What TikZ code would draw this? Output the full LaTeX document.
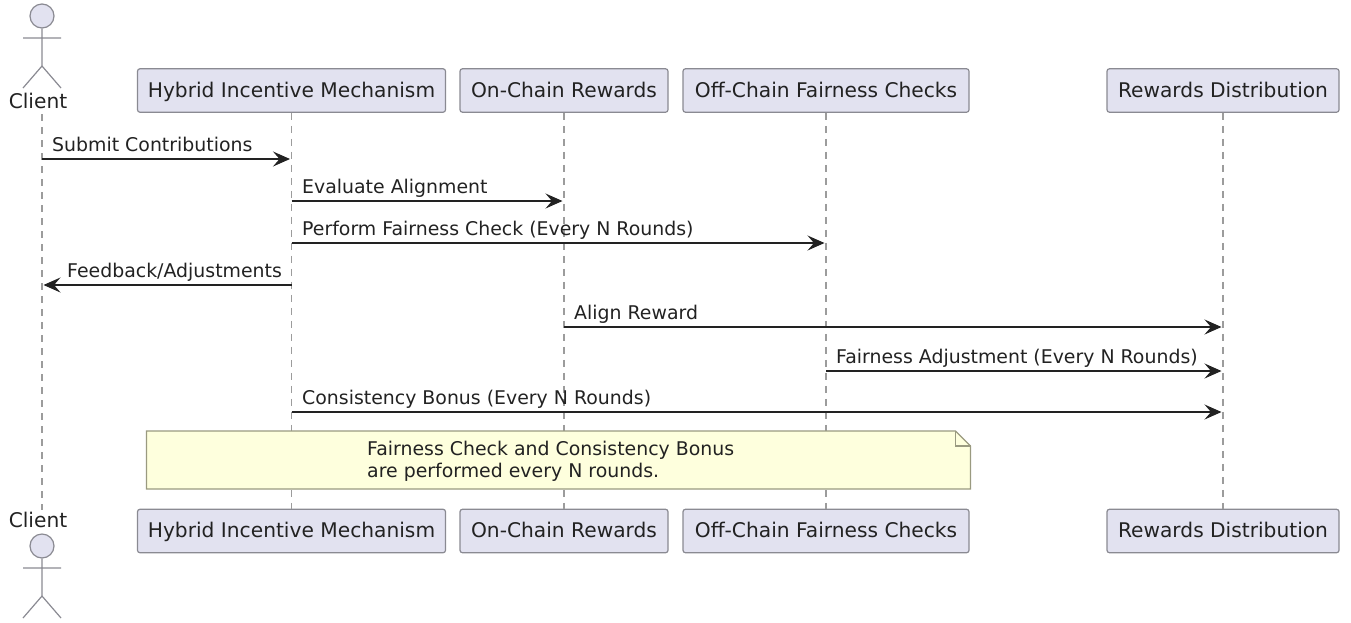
\documentclass[tikz,border=0pt]{standalone}
\usepackage{fontspec}
\setmainfont{DejaVu Sans}
\usetikzlibrary{arrows.meta}
\definecolor{actfill}{HTML}{E2E2F0}
\definecolor{actline}{HTML}{8A8A92}
\definecolor{lifecol}{HTML}{9C9C9C}
\definecolor{notefill}{HTML}{FEFFDD}
\definecolor{noteline}{HTML}{9A9A80}
\definecolor{ink}{HTML}{222222}
\tikzset{
 x=1pt,y=-1pt,
 partbox/.style={draw=actline,fill=actfill,line width=1.2pt,rounded corners=2.5pt,minimum height=43.5pt,inner sep=0pt,text=ink,text height=15pt,text depth=2pt,font=\fontsize{20.2}{24}\selectfont,anchor=center},
 lifeline/.style={draw=lifecol,line width=1.1pt,dash pattern=on 7pt off 6pt},
 msgline/.style={draw=ink,line width=1.4pt,-{Stealth[length=17pt,width=15pt,inset=6.5pt]},shorten >=1.5pt},
 msglabel/.style={anchor=base west,inner sep=0pt,text=ink,font=\fontsize{18.9}{22}\selectfont},
 stick/.style={draw=actline,line width=1.2pt},
 actorname/.style={inner sep=0pt,anchor=base,text=ink,font=\fontsize{20.2}{24}\selectfont},
 notetext/.style={anchor=base west,inner sep=0pt,text=ink,font=\fontsize{18.9}{22}\selectfont}
}
\begin{document}
\begin{tikzpicture}
\useasboundingbox (0,0) rectangle (1351,622);
% participants
\node[partbox,minimum width=308pt] (hybT) at (291.5,90.5) {Hybrid Incentive Mechanism};
\node[partbox,minimum width=208pt] (onT) at (564,90.5) {On-Chain Rewards};
\node[partbox,minimum width=286pt] (offT) at (826,90.5) {Off-Chain Fairness Checks};
\node[partbox,minimum width=232pt] (rewT) at (1223,90.5) {Rewards Distribution};
\node[partbox,minimum width=308pt] (hybB) at (291.5,531) {Hybrid Incentive Mechanism};
\node[partbox,minimum width=208pt] (onB) at (564,531) {On-Chain Rewards};
\node[partbox,minimum width=286pt] (offB) at (826,531) {Off-Chain Fairness Checks};
\node[partbox,minimum width=232pt] (rewB) at (1223,531) {Rewards Distribution};
% actors
\node[actorname] (cliT) at (38,108) {Client};
\node[actorname] (cliB) at (38,527) {Client};
\coordinate (cliTop) at (42,114);
\coordinate (cliBot) at (42,510);
\foreach \dy/\nm in {0/T,530/B}{
 \begin{scope}[yshift=-\dy pt]
 \node[circle,draw=actline,fill=actfill,line width=1.2pt,minimum size=24pt,inner sep=0pt] (head\nm) at (42,16) {};
 \coordinate (hip\nm) at (42,66);
 \coordinate (armL\nm) at (23,38);
 \coordinate (armR\nm) at (61,38);
 \coordinate (footL\nm) at (23,88);
 \coordinate (footR\nm) at (61,88);
 \draw[stick] (head\nm.south) -- (hip\nm) -- (footL\nm) (hip\nm) -- (footR\nm) (armL\nm) -- (armR\nm);
 \end{scope}
}
% lifelines
\draw[lifeline] (cliTop) -- (cliBot);
\draw[lifeline] (hybT.south) -- (hybB.north);
\draw[lifeline] (onT.south) -- (onB.north);
\draw[lifeline] (offT.south) -- (offB.north);
\draw[lifeline] (rewT.south) -- (rewB.north);
% message levels
\coordinate (m1) at (0,159);
\coordinate (m2) at (0,201);
\coordinate (m3) at (0,243);
\coordinate (m4) at (0,285);
\coordinate (m5) at (0,327);
\coordinate (m6) at (0,371);
\coordinate (m7) at (0,412);
\draw[msgline] (cliTop|-m1) -- (hybT.south|-m1);
\draw[msgline] (hybT.south|-m2) -- (onT.south|-m2);
\draw[msgline] (hybT.south|-m3) -- (offT.south|-m3);
\draw[msgline] (hybT.south|-m4) -- (cliTop|-m4);
\draw[msgline] (onT.south|-m5) -- (rewT.south|-m5);
\draw[msgline] (offT.south|-m6) -- (rewT.south|-m6);
\draw[msgline] (hybT.south|-m7) -- (rewT.south|-m7);
\node[msglabel] (l1) at (52,151) {Submit Contributions};
\node[msglabel] (l2) at (302,193) {Evaluate Alignment};
\node[msglabel] (l3) at (302,235) {Perform Fairness Check (Every N Rounds)};
\node[msglabel] (l4) at (67,277) {Feedback/Adjustments};
\node[msglabel] (l5) at (574,319) {Align Reward};
\node[msglabel] (l6) at (836,363) {Fairness Adjustment (Every N Rounds)};
\node[msglabel] (l7) at (302,404) {Consistency Bonus (Every N Rounds)};
% note
\draw[draw=noteline,fill=notefill,line width=1.1pt] (146.5,431) -- (955.5,431) -- (970.5,446) -- (970.5,489) -- (146.5,489) -- cycle;
\draw[draw=noteline,line width=1.1pt] (955.5,431) -- (955.5,446) -- (970.5,446);
\node[notetext] (n1) at (367,455) {Fairness Check and Consistency Bonus};
\node[notetext] (n2) at (367,477) {are performed every N rounds.};
\end{tikzpicture}
\end{document}
